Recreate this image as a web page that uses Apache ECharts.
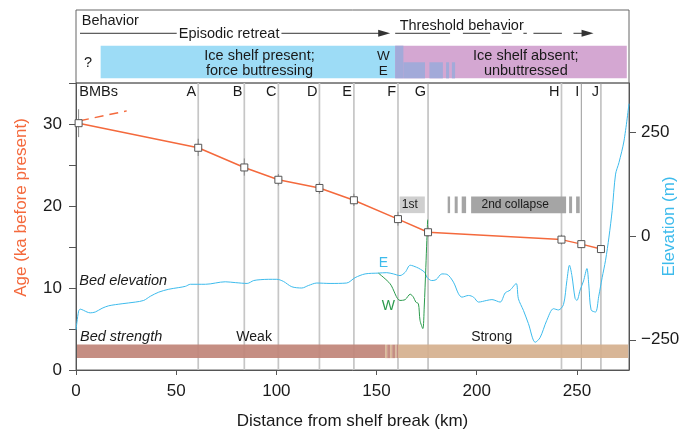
<!DOCTYPE html>
<html><head><meta charset="utf-8">
<script src="https://cdn.jsdelivr.net/npm/echarts@6/dist/echarts.min.js"></script>
<style>html,body{margin:0;padding:0;background:#fff}#c{width:682px;height:429px}</style>
</head><body><div id="c"></div><script>
// ---------------- data ----------------
const siteNames = ['BMBs','A','B','C','D','E','F','G','H','I','J'];
const siteKm    = [1.3, 61, 84, 101, 121.5, 138.7, 160.7, 175.7, 242.3, 252.2, 262];
const siteAge   = [30.1, 27.1, 24.7, 23.2, 22.2, 20.7, 18.4, 16.8, 15.9, 15.35, 14.75];
const ageLow    = [28.4, 26.1, 23.7, 22.5, 21.5, 20.0, 17.6, 16.2, 15.3, 14.9, 14.3];
const ageHigh   = [31.8, 28.2, 25.8, 23.9, 22.9, 21.5, 19.3, 17.5, 16.5, 15.8, 15.2];
const ageLineEnd = [263.5, 14.6];
const bmbDashed = [[2, 30.4], [25.3, 31.6]];

const bedKm   = [0,1.3,2.1,3.8,5.5,7.1,9.6,13,16.3,23,29.6,33.8,37.1,41.3,46.3,51.3,54.6,57.1,64.6,74.5,79.5,85.4,88.7,91.9,96,100.2,103.5,107.7,112.7,116,120.2,126.8,135.1,139.3,144.3,150.9,155.1,158.4,161.7,164.3,166.8,170,172,174.2,175.1,177.5,179.7,182.6,185.1,188.4,190.9,192.6,195.9,198.4,200.9,205,207.6,211.7,214.2,216.7,219.7,220.8,223.3,225.8,229.2,231.6,234.9,238.3,240.8,243.3,245,246.3,247.5,249.1,250,251.6,253.3,255,255.9,257.1,259.3,260.9,262.6,264.3,266,267.6,269.3,271,273.5,276];
const bedElev = [-226,-181,-176,-179,-183,-185,-183,-174,-168,-163,-159,-155,-145,-135,-128,-124,-121,-116,-116,-110,-112,-114,-107,-105,-104,-104,-109,-122,-125,-119,-113,-114,-113,-100,-91,-89,-88,-91,-95,-87,-70,-75,-80,-88,-99,-107,-105,-91,-92,-111,-139,-147,-143,-147,-159,-155,-153,-159,-137,-130,-114,-151,-179,-211,-256,-245,-204,-175,-178,-165,-107,-70,-95,-150,-155,-130,-108,-78,-115,-178,-183,-145,-100,-58,-2,62,150,178,230,320];
const wKm   = [150.9,156.8,161.7,164.3,166.8,168.4,169.6,170.9,171.7,173.1,173.8,174.6,175.1,175.5];
const wElev = [-89,-115,-155,-153,-140,-147,-159,-163,-203,-223,-171,-75,-10,40];

const strengthStart = [0.5, 154.3, 155.3, 156.8, 157.8, 159.3, 160.0, 160.7];
const strengthEnd   = [154.3, 155.3, 156.8, 157.8, 159.3, 160.0, 160.7, 275.6];
const strengthType  = ['weak','strong','weak','strong','weak','strong','weak','strong'];

const shelfStart = [12.3, 159.3, 159.3, 163.4, 176.4, 184.7, 187.6];
const shelfEnd   = [159.3, 274.9, 163.4, 174.2, 183.1, 186.2, 189.2];
const shelfType  = ['present','absent','mixFull','mixLow','mixLow','mixLow','mixLow'];

const collapseStart = [161.5, 185.5, 189.0, 192.5, 197.2, 246.1, 249.6];
const collapseEnd   = [174.1, 186.7, 190.5, 194.7, 244.6, 247.6, 251.4];
const collapseType  = ['1st','2nd','2nd','2nd','2nd','2nd','2nd'];

const episodicSeg   = [2, 156.8];
const thresholdSegs = [[159.3,186.7],[193.1,206.7],[212.5,217.5],[223.3,225],[228.3,242.5],[248.3,258.3]];

const xTicks = [0, 50, 100, 150, 200, 250];
const elevTicks = [-250, 0, 250];

// ---------------- styles ----------------
const F = '"Liberation Sans", Arial, Helvetica, sans-serif';
const TXT = '#1a1a1a';
const ORANGE = '#f4693c';
const BLUE = '#3dbbec';
const GREEN = '#2b9a4c';
const AX = '#555';
const shelfColor = {present:'#9ddcf6', absent:'#d4a7d2', mixFull:'#a2aad9', mixLow:'#a2aad9'};
const strengthColor = {weak:'#c08478', strong:'#d5b08e'};
const collapseColor = {'1st':'#cfcfcf', '2nd':'#a5a5a5'};
const darkSites = new Set(['G','I','J']);

function rectEl(api, x0, x1, y0, y1, style) {
  const a = api.coord([x0, y1]), b = api.coord([x1, y0]);
  return {type:'rect', shape:{x:a[0], y:a[1], width:b[0]-a[0], height:b[1]-a[1]}, style};
}
function txt(api, x, y, text, style, dx) {
  const p = api.coord([x, y]);
  return {type:'text', x:p[0] + (dx||0), y:p[1],
    style:Object.assign({text, fill:TXT, fontSize:14.5, fontFamily:F, align:'center', verticalAlign:'middle'}, style||{})};
}
function arrowLine(api, x0, x1, y, arrow) {
  const a = api.coord([x0, y]), b = api.coord([x1, y]);
  const els = [{type:'line', shape:{x1:a[0], y1:a[1], x2:b[0] - (arrow ? 6 : 0), y2:b[1]}, style:{stroke:'#333', lineWidth:1}}];
  if (arrow) els.push({type:'polygon', shape:{points:[[b[0], b[1]], [b[0]-12, b[1]-3.5], [b[0]-12, b[1]+3.5]]}, style:{fill:'#333'}});
  return els;
}

const shelfData = shelfStart.map((s, i) => [s, shelfEnd[i], i]);
const strengthData = strengthStart.map((s, i) => [s, strengthEnd[i], i]);
const collapseData = collapseStart.map((s, i) => [s, collapseEnd[i], i]);
const siteLineData = siteKm.map((k, i) => [k, i]).filter(d => siteNames[d[1]] !== 'BMBs');
const errData = siteKm.map((k, i) => [k, ageLow[i], ageHigh[i]]);
const ageData = siteKm.map((k, i) => [k, siteAge[i]]);
ageData.push({value: ageLineEnd, symbol:'none'});

const chart = echarts.init(document.getElementById('c'));
chart.setOption({
  animation:false,
  textStyle:{fontFamily:F},
  grid:[
    {left:76, right:53, top:10, height:73, show:true, borderColor:'#666', borderWidth:1, outerBoundsMode:'none', containLabel:false},
    {left:76, right:53, top:83, bottom:59, show:true, borderColor:'#666', borderWidth:1, outerBoundsMode:'none', containLabel:false}
  ],
  xAxis:[
    {gridIndex:0, type:'value', min:0, max:276, show:false},
    {gridIndex:1, type:'value', min:0, max:276, interval:50,
      name:'Distance from shelf break (km)', nameLocation:'middle', nameGap:43, nameMoveOverlap:false,
      nameTextStyle:{fontSize:17, color:TXT, fontFamily:F},
      axisLine:{lineStyle:{color:AX}}, axisTick:{length:5, lineStyle:{color:AX}, customValues:xTicks},
      axisLabel:{fontSize:17, color:TXT, margin:13, customValues:xTicks}, splitLine:{show:false}}
  ],
  yAxis:[
    {gridIndex:0, type:'value', min:0, max:1, show:false},
    {gridIndex:1, type:'value', min:0, max:35, interval:5, position:'left',
      name:'Age (ka before present)', nameLocation:'middle', nameGap:46, nameMoveOverlap:false,
      nameTextStyle:{fontSize:17, color:ORANGE, fontFamily:F, padding:[0,0,0,38]},
      axisLine:{show:true, lineStyle:{color:AX}}, axisTick:{show:true, length:7, lineStyle:{color:AX}},
      axisLabel:{fontSize:17, color:TXT, margin:14, formatter:v => (v % 10 === 0 ? String(v) : '')},
      splitLine:{show:false}},
    {gridIndex:1, type:'value', min:-323, max:370, position:'right',
      name:'Elevation (m)', nameLocation:'middle', nameGap:32, nameMoveOverlap:false,
      nameTextStyle:{fontSize:17, color:BLUE, fontFamily:F},
      axisLine:{show:true, lineStyle:{color:AX}}, axisTick:{show:true, length:7, lineStyle:{color:AX}, customValues:elevTicks},
      axisLabel:{fontSize:17, color:TXT, margin:12, customValues:elevTicks, formatter:v => (v < 0 ? '\u2212' + Math.abs(v) : String(v))},
      splitLine:{show:false}}
  ],
  series:[
    {type:'custom', xAxisIndex:0, yAxisIndex:0, z:2, data:shelfData,
      renderItem:(p, api) => {
        const kind = shelfType[api.value(2)];
        const top = kind === 'mixLow' ? 0.284 : 0.511;
        return rectEl(api, api.value(0), api.value(1), 0.064, top, {fill:shelfColor[kind]});
      }},
    {type:'custom', xAxisIndex:0, yAxisIndex:0, z:3, data:[[0, 0]],
      renderItem:(p, api) => {
        const ly = 0.681;
        let children = [];
        children = children.concat(arrowLine(api, episodicSeg[0], episodicSeg[1], ly, true));
        thresholdSegs.forEach((s, i) => { children = children.concat(arrowLine(api, s[0], s[1], ly, i === thresholdSegs.length - 1)); });
        children.push(txt(api, 2.85, 0.849, 'Behavior', {align:'left'}));
        children.push(txt(api, 76.4, 0.671, 'Episodic retreat', {backgroundColor:'#fff', padding:[0,2]}));
        children.push(txt(api, 192.5, 0.777, 'Threshold behavior'));
        children.push(txt(api, 6, 0.274, '?'));
        children.push(txt(api, 91.6, 0.374, 'Ice shelf present;'));
        children.push(txt(api, 91.6, 0.164, 'force buttressing'));
        children.push(txt(api, 153.4, 0.37, 'W', {fontSize:13.5}));
        children.push(txt(api, 153.4, 0.164, 'E', {fontSize:13.5}));
        children.push(txt(api, 224.5, 0.374, 'Ice shelf absent;'));
        children.push(txt(api, 224.5, 0.164, 'unbuttressed'));
        return {type:'group', children};
      }},
    {type:'custom', xAxisIndex:1, yAxisIndex:1, z:2, data:siteLineData,
      renderItem:(p, api) => {
        const k = api.value(0), name = siteNames[api.value(1)];
        const a = api.coord([k, 0]), b = api.coord([k, 35]);
        const dark = darkSites.has(name);
        return {type:'group', children:[
          {type:'line', shape:{x1:a[0], y1:a[1], x2:b[0], y2:b[1]}, style:{stroke: dark ? '#9a9a9a' : '#c6c6c6', lineWidth: dark ? 1 : 1.7}},
          txt(api, k, 33.86, name, {align:'right'}, -2)
        ]};
      }},
    {type:'custom', xAxisIndex:1, yAxisIndex:1, z:3, data:strengthData,
      renderItem:(p, api) => rectEl(api, api.value(0), api.value(1), 1.45, 3.1,
        {fill:strengthColor[strengthType[api.value(2)]], opacity:0.92})},
    {type:'custom', xAxisIndex:1, yAxisIndex:1, z:3, data:collapseData,
      renderItem:(p, api) => rectEl(api, api.value(0), api.value(1), 19.13, 21.16,
        {fill:collapseColor[collapseType[api.value(2)]]})},
    {type:'line', name:'Bed elevation', xAxisIndex:1, yAxisIndex:2, z:4, showSymbol:false, smooth:0.3,
      data:bedKm.map((k, i) => [k, bedElev[i]]), lineStyle:{color:BLUE, width:1}},
    {type:'line', name:'W', xAxisIndex:1, yAxisIndex:2, z:4, showSymbol:false, smooth:0.3,
      data:wKm.map((k, i) => [k, wElev[i]]), lineStyle:{color:GREEN, width:1}},
    {type:'custom', xAxisIndex:1, yAxisIndex:1, z:5, data:errData,
      renderItem:(p, api) => {
        const a = api.coord([api.value(0), api.value(1)]), b = api.coord([api.value(0), api.value(2)]);
        return {type:'line', shape:{x1:a[0], y1:a[1], x2:b[0], y2:b[1]}, style:{stroke:'#8a8a8a', lineWidth:1}};
      }},
    {type:'line', name:'BMB dashed', xAxisIndex:1, yAxisIndex:1, z:5, showSymbol:false,
      data:bmbDashed, lineStyle:{color:ORANGE, width:1.5, type:[9,6]}},
    {type:'line', name:'Age', xAxisIndex:1, yAxisIndex:1, z:6, symbol:'rect', symbolSize:7,
      data:ageData, lineStyle:{color:ORANGE, width:1.5},
      itemStyle:{color:'#fff', borderColor:'#555', borderWidth:1}},
    {type:'custom', xAxisIndex:1, yAxisIndex:1, z:7, data:[[0, 0]],
      renderItem:(p, api) => {
        const children = [
          txt(api, 1.65, 33.86, 'BMBs', {align:'left'}),
          txt(api, 1.65, 10.87, 'Bed elevation', {align:'left', fontStyle:'italic'}),
          txt(api, 2, 4.03, 'Bed strength', {align:'left', fontStyle:'italic'}),
          txt(api, 88.9, 4.03, 'Weak', {fontSize:14}),
          txt(api, 207.5, 4.0, 'Strong', {fontSize:14}),
          txt(api, 166.6, 20.15, '1st', {fontSize:12}),
          txt(api, 219.2, 20.15, '2nd collapse', {fontSize:12})
        ];
        return {type:'group', children};
      }},
    {type:'custom', xAxisIndex:1, yAxisIndex:2, z:7, data:[[0, 0]],
      renderItem:(p, api) => ({type:'group', children:[
        txt(api, 153.4, -66, 'E', {fill:BLUE, fontSize:14}),
        txt(api, 155.9, -168, 'W', {fill:GREEN, fontSize:14})
      ]})}
  ]
});
</script></body></html>
